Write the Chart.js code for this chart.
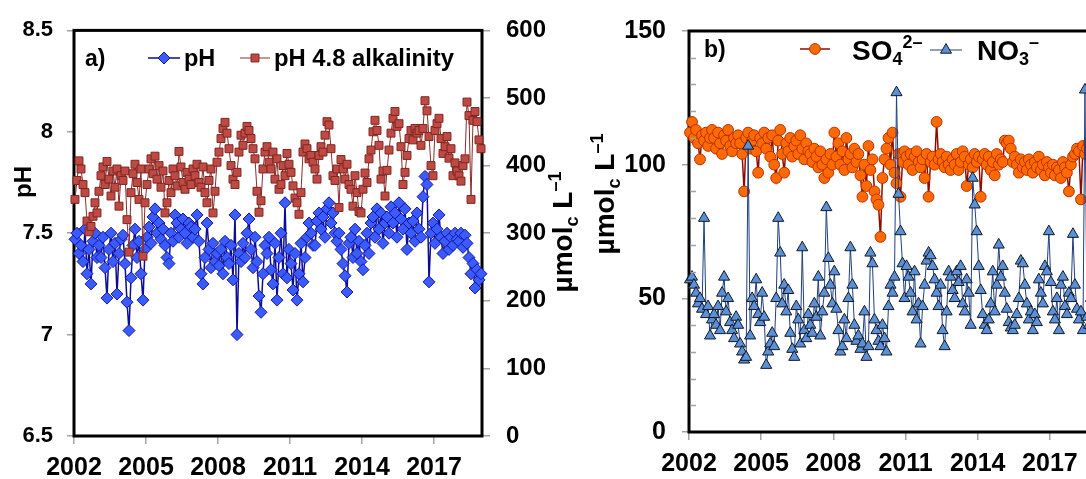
<!DOCTYPE html>
<html>
<head>
<meta charset="utf-8">
<script src="https://cdn.jsdelivr.net/npm/chart.js@4.4.1/dist/chart.umd.min.js"></script>
<style>
  html, body { margin: 0; padding: 0; background: #fff; overflow: hidden; }
  #wrap { position: relative; width: 1086px; height: 479px; overflow: hidden; background: #fff; }
  canvas { position: absolute; top: 0; }
  #chartA { left: 0; }
  #chartB { left: 580px; }
</style>
</head>
<body>
<div id="wrap">
  <canvas id="chartA" width="580" height="479"></canvas>
  <canvas id="chartB" width="540" height="479"></canvas>
</div>
<script>
// Monthly samples, January 2002 to December 2018
const startYear = 2002;
const yearTicks = [2002, 2005, 2008, 2011, 2014, 2017];
const phTicks = [6.5, 7, 7.5, 8, 8.5];
const alkTicks = [0, 100, 200, 300, 400, 500, 600];
const ionTicks = [0, 50, 100, 150];

const ph = [
  7.47, 7.50, 7.40, 7.44, 7.36, 7.52, 7.30, 7.42, 7.25, 7.46, 7.50, 7.38,
  7.44, 7.38, 7.48, 7.33, 7.18, 7.42, 7.50, 7.36, 7.45, 7.20, 7.40, 7.47,
  7.49, 7.35, 7.16, 7.02, 7.28, 7.44, 7.52, 7.38, 7.46, 7.30, 7.17, 7.42,
  7.48, 7.53, 7.45, 7.58, 7.62, 7.50, 7.55, 7.47, 7.52, 7.44, 7.38, 7.35,
  7.50, 7.46, 7.59, 7.55, 7.48, 7.52, 7.57, 7.50, 7.45, 7.55, 7.53, 7.48,
  7.52, 7.59, 7.46, 7.30, 7.25, 7.38, 7.55, 7.42, 7.33, 7.45, 7.36, 7.40,
  7.34, 7.42, 7.30, 7.46, 7.38, 7.35, 7.44, 7.27, 7.59, 7.00, 7.40, 7.36,
  7.45, 7.38, 7.50, 7.57, 7.42, 7.33, 7.48, 7.36, 7.19, 7.11, 7.30, 7.44,
  7.40, 7.48, 7.32, 7.25, 7.45, 7.17, 7.38, 7.50, 7.30, 7.65, 7.28, 7.42,
  7.35, 7.22, 7.40, 7.17, 7.30, 7.45, 7.26, 7.38, 7.48, 7.55, 7.50, 7.44,
  7.44, 7.56, 7.60, 7.52, 7.58, 7.48, 7.62, 7.65, 7.55, 7.60, 7.50, 7.46,
  7.50, 7.42, 7.35, 7.29, 7.21, 7.45, 7.48, 7.38, 7.52, 7.40, 7.46, 7.36,
  7.32, 7.44, 7.50, 7.40, 7.55, 7.58, 7.48, 7.62, 7.52, 7.60, 7.45, 7.55,
  7.58, 7.50, 7.63, 7.55, 7.60, 7.48, 7.65, 7.57, 7.52, 7.62, 7.42, 7.55,
  7.50, 7.56, 7.46, 7.60, 7.52, 7.48, 7.68, 7.78, 7.74, 7.26, 7.50, 7.55,
  7.45, 7.52, 7.59, 7.48, 7.40, 7.46, 7.50, 7.42, 7.48, 7.44, 7.50, 7.47,
  7.46, 7.50, 7.43, 7.49, 7.45, 7.38, 7.30, 7.35, 7.23, 7.32, 7.27, 7.30
];

const alkalinity = [
  350, 378, 407, 395, 372, 360, 318, 302, 310, 325, 345, 330,
  362, 385, 398, 372, 406, 380, 355, 392, 368, 395, 340, 385,
  378, 392, 320, 272, 360, 388, 402, 375, 350, 395, 266, 345,
  372, 395, 410, 388, 414, 380, 400, 368, 392, 330, 345, 378,
  360, 395, 385, 370, 421, 398, 375, 365, 390, 380, 372, 395,
  385, 402, 375, 368, 398, 360, 345, 378, 395, 330, 362, 405,
  420, 440, 455, 464, 448, 425, 400, 380, 372, 390, 420, 445,
  430, 448, 458, 452, 440, 425, 410, 362, 331, 348, 395, 420,
  428, 405, 395, 420, 380, 410, 365, 372, 400, 385, 418, 402,
  390, 370, 352, 345, 328, 360, 420, 432, 425, 410, 415, 405,
  395, 380, 415, 428, 420, 445, 465, 460, 425, 385, 378, 395,
  338, 409, 395, 380, 402, 372, 365, 340, 385, 360, 332, 330,
  365, 389, 375, 410, 423, 450, 467, 452, 430, 380, 392, 355,
  393, 423, 448, 470, 480, 458, 462, 428, 372, 390, 415, 440,
  452, 438, 455, 448, 452, 430, 455, 496, 481, 443, 400, 385,
  452, 462, 470, 440, 418, 428, 443, 411, 425, 385, 404, 392,
  385, 377, 400, 410, 494, 474, 350, 467, 480, 465, 438, 425
];

const sulfate = [
  112, 116, 110, 113, 108, 102, 111, 109, 112, 107, 110, 113,
  110, 106, 112, 108, 104, 111, 109, 113, 107, 105, 110, 108,
  111, 108, 104, 90, 110, 112, 106, 109, 111, 105, 97, 110,
  108, 112, 106, 110, 103, 111, 100, 95, 109, 113, 104, 97,
  108, 105, 110, 103, 107, 109, 104, 111, 106, 102, 108, 105,
  104, 101, 106, 103, 99, 105, 100, 95, 102, 97, 104, 100,
  112, 103, 108, 100, 105, 98, 110, 102, 104, 99, 106, 101,
  104, 96, 88, 100, 92, 107, 98, 102, 90, 87, 85, 73,
  95, 102, 106, 110, 100, 112, 97, 93, 104, 88, 101, 105,
  103, 100, 104, 98, 103, 105, 101, 99, 102, 95, 104, 88,
  101, 103, 100, 116, 102, 104, 101, 99, 103, 100, 98, 102,
  100, 104, 98, 101, 105, 103, 92, 100, 102, 99, 104, 101,
  103, 88, 102, 104, 100, 103, 98, 101, 96, 104, 100, 102,
  101, 109, 108, 109, 106, 101, 103, 100, 97, 102, 99, 101,
  98, 102, 100, 97, 101, 99, 103, 98, 100, 96, 101, 99,
  97, 100, 96, 99, 98, 95, 101, 99, 97, 90, 100, 103,
  104, 106, 105, 87, 107, 104, 106, 108, 103, 105, 102, 100
];

const nitrate = [
  57, 58, 55, 52, 48, 50, 46, 80, 44, 47, 36, 42,
  44, 40, 47, 38, 52, 58, 45, 50, 41, 38, 35, 43,
  40, 33, 30, 27, 28, 107, 36, 50, 47, 57, 44, 41,
  52, 43, 25, 30, 33, 37, 32, 50, 80, 67, 48, 55,
  45, 53, 37, 31, 28, 47, 42, 33, 69, 38, 35, 44,
  40, 37, 48, 43, 58, 36, 45, 52, 84, 65, 55, 48,
  60, 46, 38, 30, 32, 42, 35, 50, 69, 55, 40, 34,
  36, 31, 33, 45, 28, 32, 67, 63, 42, 38, 34, 32,
  40, 35, 30, 47, 55, 52, 58, 127, 89, 75, 63, 50,
  62, 58, 52, 45, 60, 42, 48, 33, 47, 55, 64, 67,
  66, 62, 57, 52, 47, 55, 38, 32, 45, 60, 58, 53,
  50, 60, 56, 62, 48, 45, 57, 52, 40, 95, 85, 75,
  62, 53, 44, 40, 38, 42, 48, 60, 45, 55, 70, 58,
  62, 52, 46, 41, 39, 38, 40, 44, 50, 64, 63, 55,
  48, 42, 45, 38, 44, 41, 57, 52, 48, 62, 60, 75,
  56, 45, 42, 50, 38, 55, 58, 47, 44, 52, 50, 74,
  55, 46, 42, 45, 38, 128, 43, 40, 50, 44, 47, 42
];

const NARROW = "'Liberation Sans Narrow', 'Liberation Sans', Arial, sans-serif";
const SANS = "'Liberation Sans', Arial, sans-serif";
const TICK_GREY = '#a3a3a3';

// place each monthly value at the middle of its month
function toPoints(values) {
  return values.map((v, i) => ({ x: startYear + (i + 0.5) / 12, y: v }));
}
function fixedTicks(list) {
  return scale => { scale.ticks = list.map(v => ({ value: v })); };
}

const phStyle = {
  borderColor: '#0c0c94', borderWidth: 1.5,
  pointStyle: 'rectRot', pointRadius: 6,
  pointBackgroundColor: '#3a5cff', pointBorderColor: '#1616a0', pointBorderWidth: 1
};
const alkStyle = {
  borderColor: '#8a2e2a', borderWidth: 1,
  pointStyle: 'rect', pointRadius: 5.6,
  pointBackgroundColor: '#bf4a44', pointBorderColor: '#7d2622', pointBorderWidth: 1
};
const so4Style = {
  borderColor: '#8e0b00', borderWidth: 1.5,
  pointStyle: 'circle', pointRadius: 5.4,
  pointBackgroundColor: '#ff6a00', pointBorderColor: '#b83200', pointBorderWidth: 1
};
const no3Style = {
  borderColor: '#1f3f80', borderWidth: 1,
  pointStyle: 'triangle', pointRadius: 6.4,
  pointBackgroundColor: '#5b8fd6', pointBorderColor: '#111827', pointBorderWidth: 1
};

function drawRuns(ctx, runs, x, baseline, align) {
  let total = 0;
  runs.forEach(r => {
    ctx.font = `bold ${r.size}px ${r.family}`;
    r.w = ctx.measureText(r.text).width;
    total += r.w;
  });
  let cx = align === 'center' ? x - total / 2 : x;
  ctx.fillStyle = '#000';
  ctx.textAlign = 'left';
  ctx.textBaseline = 'alphabetic';
  runs.forEach(r => {
    ctx.font = `bold ${r.size}px ${r.family}`;
    ctx.fillText(r.text, cx, baseline + (r.dy || 0));
    cx += r.w;
  });
}

// vertical axis title reading bottom to top; bx is the baseline position
function verticalTitle(ctx, runs, bx, cy) {
  ctx.save();
  ctx.translate(bx, cy);
  ctx.rotate(-Math.PI / 2);
  drawRuns(ctx, runs, 0, 0, 'center');
  ctx.restore();
}

function legendSample(ctx, x1, x2, y, st) {
  ctx.save();
  ctx.strokeStyle = st.borderColor;
  ctx.lineWidth = st.borderWidth;
  ctx.beginPath(); ctx.moveTo(x1, y); ctx.lineTo(x2, y); ctx.stroke();
  ctx.fillStyle = st.pointBackgroundColor;
  ctx.strokeStyle = st.pointBorderColor;
  ctx.lineWidth = st.pointBorderWidth;
  Chart.helpers.drawPoint(ctx, {
    pointStyle: st.pointStyle, radius: st.pointRadius, rotation: 0, borderWidth: st.pointBorderWidth
  }, (x1 + x2) / 2, y);
  ctx.restore();
}

function frame(chart) {
  const { ctx, chartArea: a } = chart;
  ctx.save();
  ctx.strokeStyle = '#000';
  ctx.lineWidth = 3;
  ctx.strokeRect(a.left, a.top, a.right - a.left, a.bottom - a.top);
  ctx.restore();
}

const unitRuns = () => [
  { text: 'µmol', size: 28, family: NARROW },
  { text: 'c', size: 18, dy: 6, family: NARROW },
  { text: ' L', size: 28, family: NARROW },
  { text: '–1', size: 18, dy: -11, family: NARROW }
];

const panelA = {
  id: 'panelA',
  beforeDatasetsDraw: frame,
  afterDraw(chart) {
    const ctx = chart.ctx;
    ctx.save();
    drawRuns(ctx, [{ text: 'a)', size: 23, family: SANS }], 85, 66, 'left');
    legendSample(ctx, 148, 180, 58, phStyle);
    drawRuns(ctx, [{ text: 'pH', size: 23.5, family: SANS }], 184, 66, 'left');
    legendSample(ctx, 240, 270, 58, alkStyle);
    drawRuns(ctx, [{ text: 'pH 4.8 alkalinity', size: 23.8, family: SANS }], 274, 66, 'left');
    verticalTitle(ctx, [{ text: 'pH', size: 24, family: NARROW }], 31, 182);
    verticalTitle(ctx, unitRuns(), 572, 232);
    ctx.restore();
  }
};

const panelB = {
  id: 'panelB',
  beforeDatasetsDraw: frame,
  afterDraw(chart) {
    const ctx = chart.ctx;
    const y = chart.scales.y;
    const left = chart.chartArea.left;
    ctx.save();
    // minor ticks every 10 units, inside the plot
    ctx.strokeStyle = TICK_GREY;
    ctx.lineWidth = 1.5;
    for (let v = 10; v < 150; v += 10) {
      if (v % 50 === 0) continue;
      const py = Math.round(y.getPixelForValue(v)) + 0.5;
      ctx.beginPath(); ctx.moveTo(left + 1.5, py); ctx.lineTo(left + 7, py); ctx.stroke();
    }
    drawRuns(ctx, [{ text: 'b)', size: 23, family: SANS }], 124, 57, 'left');
    legendSample(ctx, 220, 250, 49, so4Style);
    drawRuns(ctx, [
      { text: 'SO', size: 28, family: NARROW },
      { text: '4', size: 18, dy: 5, family: NARROW },
      { text: '2–', size: 18, dy: -12, family: NARROW }
    ], 272, 60, 'left');
    legendSample(ctx, 350, 382, 50, no3Style);
    drawRuns(ctx, [
      { text: 'NO', size: 28, family: NARROW },
      { text: '3', size: 18, dy: 5, family: NARROW },
      { text: '–', size: 18, dy: -12, family: NARROW }
    ], 397, 60, 'left');
    verticalTitle(ctx, unitRuns(), 34, 194);
    ctx.restore();
  }
};

function tickFont(family, size) {
  return { family, size, weight: 'bold' };
}
function tickGrid(len) {
  return { display: true, drawOnChartArea: false, drawTicks: true, tickLength: len, color: TICK_GREY, lineWidth: 1.5 };
}

const xAxis = (height) => ({
  type: 'linear', min: 2002, max: 2019,
  afterBuildTicks: fixedTicks(yearTicks),
  afterFit: s => { s.height = height; },
  grid: tickGrid(8),
  border: { display: false },
  ticks: {
    padding: 9, color: '#000', font: tickFont(NARROW, 25),
    maxRotation: 0, autoSkip: false, callback: v => String(v)
  }
});

new Chart(document.getElementById('chartA'), {
  type: 'line',
  data: {
    datasets: [
      Object.assign({ label: 'pH 4.8 alkalinity', data: toPoints(alkalinity), yAxisID: 'yAlk', order: 0, clip: false }, alkStyle),
      Object.assign({ label: 'pH', data: toPoints(ph), yAxisID: 'yPh', order: 1, clip: false }, phStyle)
    ]
  },
  options: {
    responsive: false, animation: false, devicePixelRatio: 1,
    layout: { padding: { top: 26, left: 0, right: 0, bottom: 0 } },
    plugins: { legend: { display: false }, tooltip: { enabled: false } },
    scales: {
      x: xAxis(43),
      yPh: {
        position: 'left', min: 6.5, max: 8.5,
        afterBuildTicks: fixedTicks(phTicks),
        afterFit: s => { s.width = 74; },
        grid: tickGrid(7), border: { display: false },
        ticks: { padding: 14, color: '#000', font: tickFont(SANS, 22), callback: v => String(v) }
      },
      yAlk: {
        position: 'right', min: 0, max: 600,
        afterBuildTicks: fixedTicks(alkTicks),
        afterFit: s => { s.width = 98; },
        grid: tickGrid(8), border: { display: false },
        ticks: { padding: 16, color: '#000', font: tickFont(NARROW, 24), callback: v => String(v) }
      }
    }
  },
  plugins: [panelA]
});

new Chart(document.getElementById('chartB'), {
  type: 'line',
  data: {
    datasets: [
      Object.assign({ label: 'NO3', data: toPoints(nitrate), order: 0, clip: false }, no3Style),
      Object.assign({ label: 'SO4', data: toPoints(sulfate), order: 1, clip: false }, so4Style)
    ]
  },
  options: {
    responsive: false, animation: false, devicePixelRatio: 1,
    layout: { padding: { top: 23, left: 0, right: 22, bottom: 0 } },
    plugins: { legend: { display: false }, tooltip: { enabled: false } },
    scales: {
      x: xAxis(47),
      y: {
        position: 'left', min: 0, max: 150,
        afterBuildTicks: fixedTicks(ionTicks),
        afterFit: s => { s.width = 109; },
        grid: tickGrid(7), border: { display: false },
        ticks: { padding: 16, color: '#000', font: tickFont(NARROW, 25), callback: v => String(v) }
      }
    }
  },
  plugins: [panelB]
});
</script>
</body>
</html>
